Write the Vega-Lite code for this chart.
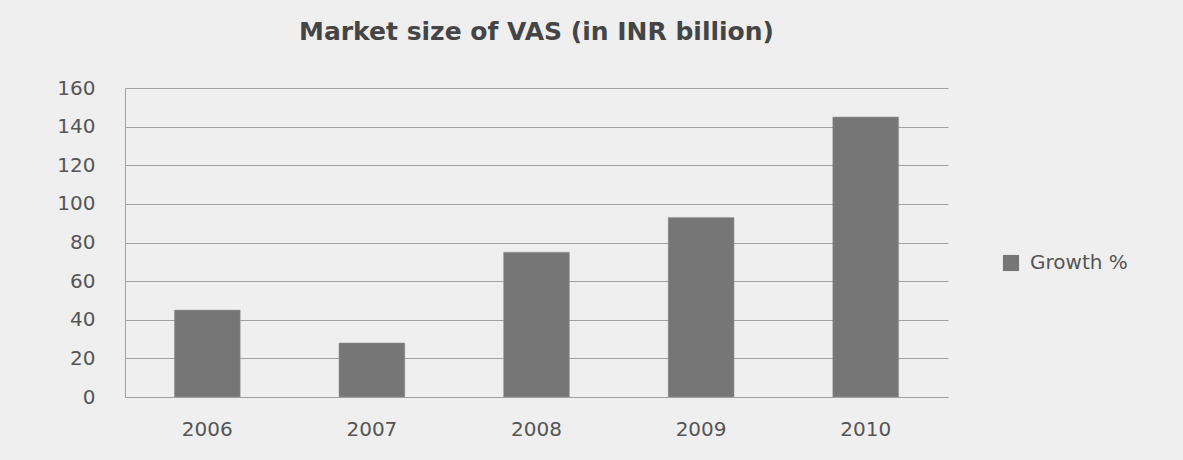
{
  "$schema": "https://vega.github.io/schema/vega-lite/v6.json",
  "width": 823,
  "height": 309,
  "autosize": {"type": "none"},
  "padding": {"left": 125, "top": 88, "right": 235, "bottom": 63},
  "background": "#efefef",
  "title": {
    "text": "Market size of VAS (in INR billion)",
    "anchor": "middle",
    "frame": "group",
    "offset": 33,
    "font": "DejaVu Sans",
    "fontSize": 25,
    "fontWeight": "bold",
    "color": "#454545"
  },
  "data": {
    "values": [
      {"year": "2006", "value": 45, "series": "Growth %"},
      {"year": "2007", "value": 28, "series": "Growth %"},
      {"year": "2008", "value": 75, "series": "Growth %"},
      {"year": "2009", "value": 93, "series": "Growth %"},
      {"year": "2010", "value": 145, "series": "Growth %"}
    ]
  },
  "mark": {"type": "bar", "stroke": "#9a9a9a", "strokeWidth": 0.5},
  "encoding": {
    "x": {
      "field": "year",
      "type": "ordinal",
      "scale": {"paddingInner": 0.6, "paddingOuter": 0.3},
      "axis": {
        "title": null,
        "labelAngle": 0,
        "ticks": false,
        "labelPadding": 22,
        "domainColor": "#a0a0a0",
        "labelFont": "DejaVu Sans",
        "labelFontSize": 20,
        "labelColor": "#555555"
      }
    },
    "y": {
      "field": "value",
      "type": "quantitative",
      "scale": {"domain": [0, 160]},
      "axis": {
        "title": null,
        "values": [0, 20, 40, 60, 80, 100, 120, 140, 160],
        "ticks": false,
        "labelPadding": 30,
        "domainColor": "#a0a0a0",
        "gridColor": "#a0a0a0",
        "labelFont": "DejaVu Sans",
        "labelFontSize": 20,
        "labelColor": "#555555"
      }
    },
    "color": {
      "field": "series",
      "type": "nominal",
      "scale": {"range": ["#767676"]},
      "legend": {
        "title": null,
        "orient": "none",
        "legendX": 876,
        "legendY": 165,
        "symbolType": "square",
        "symbolSize": 260,
        "symbolStrokeWidth": 0,
        "labelFont": "DejaVu Sans",
        "labelFontSize": 20,
        "labelColor": "#555555",
        "labelOffset": 9
      }
    }
  },
  "config": {
    "view": {"stroke": null}
  }
}
